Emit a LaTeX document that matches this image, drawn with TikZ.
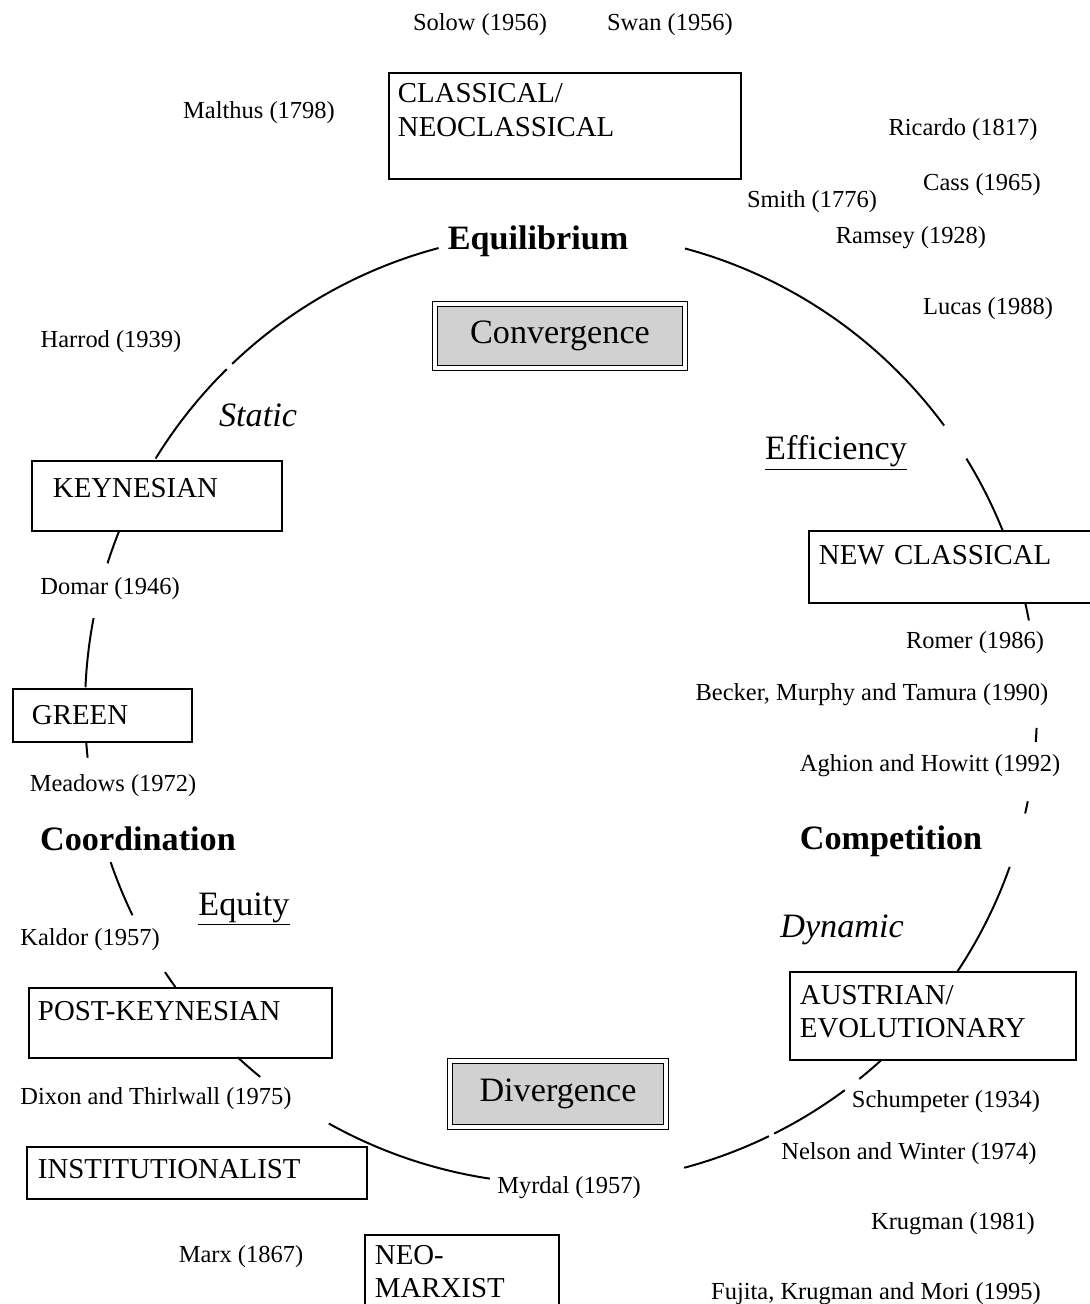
\documentclass[tikz,border=0pt]{standalone}
\usepackage{fontspec}
\setmainfont{Liberation Serif}
\newcommand{\authfont}{\fontsize{17.4}{20}\selectfont}
\newcommand{\schoolfont}{\fontsize{20.5}{23.6}\selectfont}
\newcommand{\themefont}{\fontsize{24.3}{28}\selectfont}
\tikzset{
  author/.style={font=\authfont, inner sep=0pt, yshift=-0.07cm},
  theme/.style={font=\themefont\bfseries, inner sep=0pt, yshift=-0.07cm},
  quality/.style={font=\themefont, inner sep=0pt, yshift=-0.05cm},
  mood/.style={font=\themefont\itshape, inner sep=0pt, yshift=-0.07cm},
  school/.style={draw, line width=1.4pt, anchor=north west, align=left,
    inner ysep=0pt, font=\schoolfont},
  shaded/.style={draw, double, double distance=2.2pt, line width=1pt,
    fill=black!18, font=\themefont, inner sep=0pt},
  ring/.style={line width=1.4pt}
}
\begin{document}
\begin{tikzpicture}[x=0.025cm,y=-0.025cm]
  \useasboundingbox (0,0) rectangle (1090,1304);
  \clip (0,0) rectangle (1090,1304);
  % broken circle, center (561,708), radius 476
  \foreach \a/\b in {36.4/74.9, 104.9/133.7, 134.6/148.4, 158.1/162.3,
      169.1/177.5, 184.0/186.0, 198.9/205.8, 213.7/215.9, 227.2/230.8,
      240.8/261.4, 285.0/295.9, 296.6/306.6, 308.8/312.2, 326.3/340.5,
      347.2/348.7, 355.9/357.6, 10.6/12.7, 21.8/31.6}{
    \draw[ring] plot[domain=\a:\b, samples=30, smooth]
      ({561+476*cos(\x)}, {708-476*sin(\x)});
  }
  % schools of thought
  \node[school, inner xsep=0.225cm, text width=8.35cm, text height=0.75cm, text depth=1.9cm]
    (classical) at (388,72) {CLASSICAL/\\NEOCLASSICAL};
  \node[school, inner xsep=0.525cm, text width=5.2cm, text height=0.9cm, text depth=0.85cm]
    (keynesian) at (31,460) {KEYNESIAN};
  \node[school, inner xsep=0.25cm, text width=6.8cm, text height=0.825cm, text depth=0.975cm]
    (newclassical) at (808,530) {NEW CLASSICAL};
  \node[school, inner xsep=0.475cm, text width=3.525cm, text height=0.875cm, text depth=0.45cm]
    (green) at (12,688) {GREEN};
  \node[school, inner xsep=0.225cm, text width=7.125cm, text height=0.8cm, text depth=0.95cm]
    (postkeynesian) at (28,987) {POST-KEYNESIAN};
  \node[school, inner xsep=0.25cm, text width=6.65cm, text height=0.8cm, text depth=1.4cm]
    (austrian) at (789,971) {AUSTRIAN/\\EVOLUTIONARY};
  \node[school, inner xsep=0.275cm, text width=7.95cm, text height=0.775cm, text depth=0.525cm]
    (institutionalist) at (26,1146) {INSTITUTIONALIST};
  \node[school, inner xsep=0.25cm, text width=4.35cm, text height=0.725cm, text depth=1.525cm]
    (neomarxist) at (364,1234) {NEO-\\MARXIST};
  % convergence / divergence
  \node[shaded, minimum width=6.25cm, minimum height=1.6cm] (convergence) at (560,336) {Convergence};
  \node[shaded, minimum width=5.4cm, minimum height=1.65cm] (divergence) at (558,1094) {Divergence};
  % themes
  \node[theme] (equilibrium) at (538,238) {Equilibrium};
  \node[theme] (coordination) at (138,836) {Coordination};
  \node[theme] (competition) at (891,838) {Competition};
  \node[mood] (static) at (258,413) {Static};
  \node[mood] (dynamic) at (842,927) {Dynamic};
  \node[quality] (efficiency) at (836,451) {\underline{Efficiency}};
  \node[quality] (equity) at (244,907) {\underline{Equity}};
  % authors
  \node[author] (solow) at (480,22) {Solow (1956)};
  \node[author] (swan) at (670,22) {Swan (1956)};
  \node[author] (malthus) at (259,110) {Malthus (1798)};
  \node[author] (ricardo) at (963,127) {Ricardo (1817)};
  \node[author] (cass) at (982,182) {Cass (1965)};
  \node[author] (smith) at (812,199) {Smith (1776)};
  \node[author] (ramsey) at (911,235) {Ramsey (1928)};
  \node[author] (lucas) at (988,306) {Lucas (1988)};
  \node[author] (harrod) at (111,339) {Harrod (1939)};
  \node[author] (domar) at (110,586) {Domar (1946)};
  \node[author] (romer) at (975,640) {Romer (1986)};
  \node[author] (becker) at (872,692) {Becker, Murphy and Tamura (1990)};
  \node[author] (aghion) at (930,763) {Aghion and Howitt (1992)};
  \node[author] (meadows) at (113,783) {Meadows (1972)};
  \node[author] (kaldor) at (90,937) {Kaldor (1957)};
  \node[author] (dixon) at (156,1096) {Dixon and Thirlwall (1975)};
  \node[author] (schumpeter) at (946,1099) {Schumpeter (1934)};
  \node[author] (nelson) at (909,1151) {Nelson and Winter (1974)};
  \node[author] (myrdal) at (569,1185) {Myrdal (1957)};
  \node[author] (krugman) at (953,1221) {Krugman (1981)};
  \node[author] (marx) at (241,1254) {Marx (1867)};
  \node[author] (fujita) at (876,1291) {Fujita, Krugman and Mori (1995)};
\end{tikzpicture}
\end{document}
